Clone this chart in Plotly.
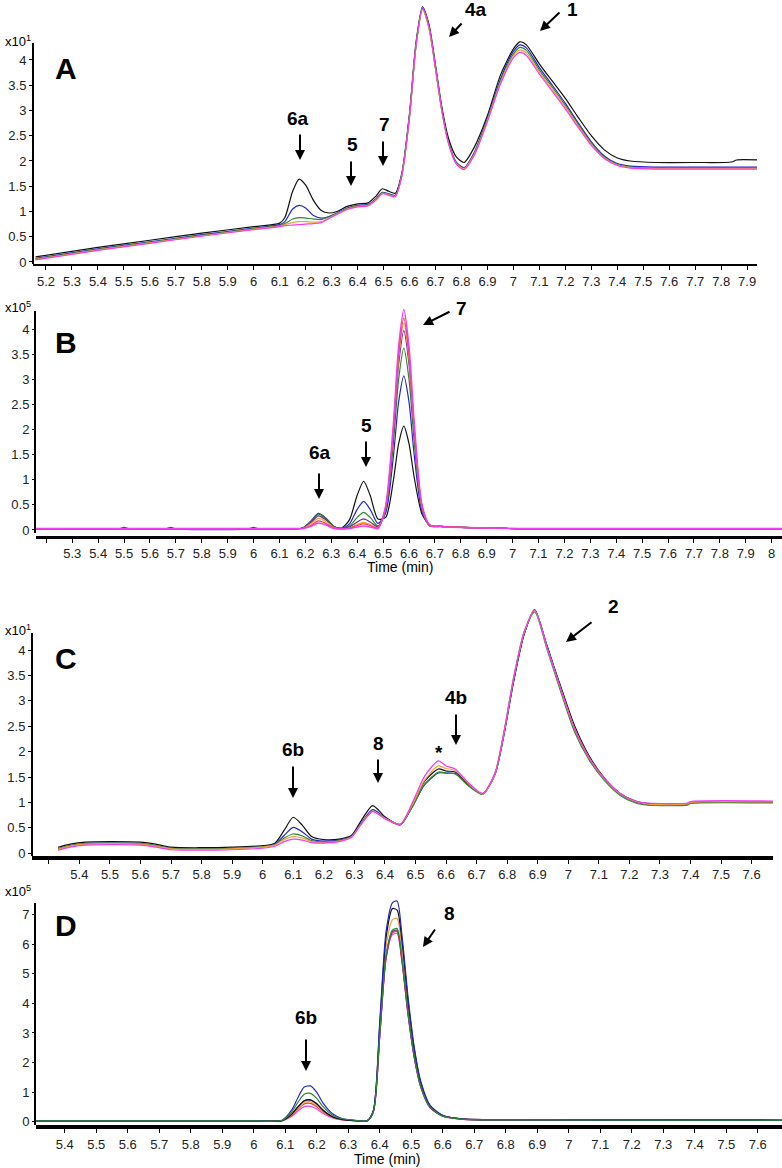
import plotly.graph_objects as go

W, H = 782, 1168

# ---------------- Panel A (x10^1) ----------------
tA = [5.16, 5.40, 5.60, 5.80, 6.00, 6.10, 6.12, 6.15, 6.175, 6.20, 6.23, 6.26, 6.29, 6.32, 6.36, 6.40,
      6.44, 6.47, 6.495, 6.52, 6.545, 6.57, 6.60, 6.625, 6.65, 6.675, 6.70, 6.725, 6.75, 6.78, 6.81,
      6.85, 6.90, 6.95, 7.00, 7.025, 7.05, 7.10, 7.15, 7.20, 7.25, 7.30, 7.35, 7.40, 7.45, 7.55, 7.70,
      7.84, 7.86, 7.94]
A_black = [0.10, 0.29, 0.43, 0.57, 0.70, 0.77, 0.88, 1.40, 1.64, 1.52, 1.22, 1.02, 0.97, 1.00, 1.10, 1.15,
           1.17, 1.30, 1.45, 1.40, 1.36, 1.75, 2.95, 4.35, 5.05, 4.70, 3.90, 3.05, 2.45, 2.08, 1.97,
           2.28, 2.90, 3.70, 4.22, 4.36, 4.30, 3.92, 3.58, 3.24, 2.86, 2.50, 2.22, 2.06, 2.00, 1.97, 1.97,
           1.98, 2.02, 2.02]
A_blue = [0.07, 0.26, 0.40, 0.54, 0.67, 0.74, 0.80, 1.05, 1.12, 1.07, 0.92, 0.87, 0.90, 0.97, 1.07, 1.12,
          1.14, 1.25, 1.38, 1.35, 1.32, 1.72, 2.90, 4.30, 5.02, 4.65, 3.85, 3.00, 2.38, 1.98, 1.87,
          2.18, 2.85, 3.62, 4.17, 4.30, 4.24, 3.85, 3.50, 3.14, 2.75, 2.38, 2.10, 1.95, 1.90, 1.88, 1.88,
          1.88, 1.88, 1.88]
A_green = [0.06, 0.25, 0.39, 0.53, 0.66, 0.72, 0.76, 0.85, 0.88, 0.87, 0.85, 0.84, 0.89, 0.96, 1.06, 1.11,
           1.13, 1.24, 1.37, 1.34, 1.31, 1.71, 2.88, 4.28, 5.00, 4.63, 3.83, 2.98, 2.36, 1.96, 1.86,
           2.16, 2.83, 3.58, 4.12, 4.25, 4.19, 3.80, 3.46, 3.10, 2.72, 2.35, 2.08, 1.93, 1.88, 1.86, 1.86,
           1.86, 1.86, 1.86]
A_orange = [0.05, 0.24, 0.38, 0.52, 0.65, 0.71, 0.74, 0.78, 0.80, 0.80, 0.79, 0.80, 0.87, 0.95, 1.05, 1.10,
            1.12, 1.23, 1.36, 1.33, 1.30, 1.70, 2.87, 4.27, 5.00, 4.62, 3.82, 2.97, 2.35, 1.95, 1.85,
            2.14, 2.80, 3.55, 4.08, 4.20, 4.14, 3.76, 3.42, 3.07, 2.69, 2.33, 2.06, 1.92, 1.87, 1.85, 1.85,
            1.85, 1.85, 1.85]
A_magenta = [0.04, 0.23, 0.37, 0.51, 0.64, 0.70, 0.72, 0.73, 0.74, 0.75, 0.76, 0.78, 0.86, 0.94, 1.04, 1.09,
             1.11, 1.22, 1.35, 1.32, 1.29, 1.70, 2.88, 4.30, 5.04, 4.66, 3.85, 2.98, 2.35, 1.94, 1.83,
             2.12, 2.78, 3.52, 4.04, 4.15, 4.09, 3.72, 3.38, 3.03, 2.66, 2.31, 2.05, 1.91, 1.86, 1.84, 1.84,
             1.84, 1.84, 1.84]

# ---------------- Panel B (x10^5) ----------------
tB = [5.16, 5.48, 5.50, 5.52, 5.66, 5.68, 5.70, 5.98, 6.00, 6.02, 6.16, 6.19, 6.22, 6.25, 6.28, 6.31,
      6.34, 6.37, 6.40, 6.425, 6.45, 6.48, 6.51, 6.54, 6.56, 6.58, 6.60, 6.62, 6.65, 6.68, 6.72, 6.80,
      6.95, 7.05, 8.04]
B_black = [.02, .02, .02, .02, .02, .02, .02, .02, .02, .02, .02, .04, .16, .32, .23, .07,
           .04, .20, .69, .97, .69, .22, .25, 1.00, 1.72, 2.07, 1.72, 1.05, .32, .10, .07, .05,
           .035, .02, .02]
B_blue = [.02, .02, .05, .02, .02, .05, .02, .02, .05, .02, .02, .04, .17, .33, .23, .07,
          .03, .12, .41, .57, .41, .13, .34, 1.48, 2.55, 3.07, 2.55, 1.50, .36, .08, .07, .05,
          .035, .02, .02]
B_green = [.02, .02, .02, .02, .02, .02, .02, .02, .02, .02, .02, .04, .16, .32, .23, .07,
           .03, .08, .25, .35, .25, .08, .40, 1.75, 3.00, 3.62, 3.00, 1.77, .42, .08, .07, .05,
           .035, .02, .02]
B_purple = [.02, .02, .02, .02, .02, .02, .02, .02, .02, .02, .02, .04, .14, .28, .20, .06,
            .03, .06, .16, .22, .16, .06, .43, 1.92, 3.30, 3.97, 3.30, 1.94, .46, .09, .07, .05,
            .035, .02, .02]
B_orange = [.02, .02, .02, .02, .02, .02, .02, .02, .02, .02, .02, .03, .12, .23, .17, .05,
            .03, .04, .11, .15, .11, .04, .45, 2.00, 3.42, 4.12, 3.42, 2.00, .47, .09, .07, .05,
            .035, .02, .02]
B_red = [.02, .02, .02, .02, .02, .02, .02, .02, .02, .02, .02, .03, .09, .18, .13, .04,
         .02, .04, .09, .12, .09, .04, .46, 2.04, 3.50, 4.22, 3.50, 2.05, .48, .09, .07, .05,
         .035, .02, .02]
B_magenta = [.03, .03, .03, .03, .03, .03, .03, .03, .03, .03, .03, .03, .07, .14, .10, .03,
             .02, .03, .06, .08, .06, .03, .48, 2.12, 3.64, 4.39, 3.64, 2.14, .50, .10, .07, .05,
             .035, .03, .03]

# ---------------- Panel C (x10^1) ----------------
tC = [5.33, 5.37, 5.42, 5.50, 5.60, 5.65, 5.70, 5.80, 5.90, 6.00, 6.04, 6.07, 6.10, 6.13, 6.16, 6.20,
      6.25, 6.29, 6.32, 6.36, 6.40, 6.45, 6.49, 6.53, 6.575, 6.60, 6.63, 6.675, 6.72, 6.76, 6.79,
      6.82, 6.855, 6.89, 6.93, 6.97, 7.02, 7.07, 7.12, 7.17, 7.22, 7.26, 7.39, 7.40, 7.67]
C_black = [0.12, 0.18, 0.22, 0.23, 0.22, 0.18, 0.12, 0.11, 0.12, 0.15, 0.20, 0.45, 0.71, 0.55, 0.33, 0.27,
           0.28, 0.35, 0.62, 0.94, 0.72, 0.57, 0.95, 1.42, 1.66, 1.62, 1.60, 1.35, 1.17, 1.55, 2.35,
           3.35, 4.30, 4.80, 4.08, 3.38, 2.52, 1.90, 1.47, 1.18, 1.03, 0.98, 0.97, 1.00, 1.01]
C_blue = [0.09, 0.15, 0.19, 0.20, 0.19, 0.15, 0.10, 0.09, 0.10, 0.13, 0.18, 0.35, 0.51, 0.42, 0.28, 0.24,
          0.26, 0.33, 0.58, 0.86, 0.70, 0.56, 0.92, 1.35, 1.58, 1.58, 1.57, 1.33, 1.17, 1.55, 2.35,
          3.35, 4.30, 4.78, 4.10, 3.35, 2.45, 1.85, 1.44, 1.16, 1.01, 0.96, 0.96, 0.99, 1.00]
C_green = [0.09, 0.15, 0.19, 0.20, 0.19, 0.15, 0.10, 0.09, 0.10, 0.13, 0.17, 0.30, 0.38, 0.34, 0.25, 0.22,
           0.25, 0.32, 0.56, 0.83, 0.69, 0.56, 0.92, 1.36, 1.60, 1.58, 1.56, 1.32, 1.16, 1.57, 2.40,
           3.42, 4.35, 4.75, 4.02, 3.28, 2.40, 1.82, 1.42, 1.14, 0.99, 0.95, 0.95, 0.98, 0.99]
C_orange = [0.08, 0.14, 0.18, 0.19, 0.18, 0.14, 0.09, 0.08, 0.09, 0.12, 0.16, 0.27, 0.33, 0.30, 0.23, 0.21,
            0.24, 0.32, 0.56, 0.83, 0.69, 0.57, 0.96, 1.44, 1.72, 1.67, 1.63, 1.36, 1.17, 1.56, 2.38,
            3.40, 4.33, 4.78, 4.06, 3.33, 2.46, 1.86, 1.45, 1.17, 1.02, 0.97, 0.97, 1.00, 1.01]
C_magenta = [0.06, 0.12, 0.16, 0.17, 0.16, 0.12, 0.07, 0.06, 0.07, 0.10, 0.14, 0.23, 0.28, 0.26, 0.21, 0.20,
             0.23, 0.31, 0.55, 0.82, 0.68, 0.57, 1.00, 1.52, 1.82, 1.72, 1.66, 1.38, 1.18, 1.58, 2.40,
             3.42, 4.35, 4.79, 4.06, 3.33, 2.47, 1.87, 1.46, 1.18, 1.03, 0.99, 0.99, 1.02, 1.03]

# ---------------- Panel D (x10^5) ----------------
tD = [5.31, 6.00, 6.09, 6.12, 6.14, 6.16, 6.18, 6.20, 6.22, 6.25, 6.28, 6.32, 6.36, 6.38, 6.40, 6.42,
      6.44, 6.455, 6.47, 6.49, 6.51, 6.53, 6.56, 6.60, 6.66, 6.80, 7.68]
D_blue = [0.03, 0.03, 0.05, 0.39, 0.81, 1.17, 1.21, 0.99, 0.63, 0.27, 0.11, 0.05, 0.03, 0.40, 3.37, 6.42,
          7.39, 7.46, 6.35, 4.19, 2.48, 1.37, 0.55, 0.22, 0.10, 0.07, 0.05]
D_black = [0.03, 0.03, 0.04, 0.25, 0.50, 0.71, 0.74, 0.61, 0.39, 0.17, 0.08, 0.04, 0.03, 0.39, 3.27, 6.22,
           7.20, 7.15, 6.15, 4.06, 2.41, 1.33, 0.53, 0.21, 0.10, 0.07, 0.05]
D_green = [0.03, 0.03, 0.05, 0.32, 0.65, 0.93, 0.96, 0.79, 0.51, 0.22, 0.10, 0.05, 0.03, 0.36, 2.96, 5.62,
           6.47, 6.53, 5.56, 3.67, 2.18, 1.20, 0.49, 0.19, 0.09, 0.06, 0.05]
D_purple = [0.03, 0.03, 0.04, 0.25, 0.50, 0.70, 0.73, 0.60, 0.39, 0.17, 0.08, 0.04, 0.03, 0.35, 2.93, 5.57,
            6.42, 6.47, 5.51, 3.64, 2.16, 1.19, 0.48, 0.19, 0.09, 0.06, 0.05]
D_orange = [0.03, 0.03, 0.04, 0.23, 0.45, 0.65, 0.67, 0.55, 0.35, 0.16, 0.07, 0.04, 0.03, 0.37, 3.11, 5.92,
            6.82, 6.87, 5.85, 3.86, 2.29, 1.26, 0.51, 0.20, 0.10, 0.07, 0.05]
D_red = [0.03, 0.03, 0.04, 0.21, 0.42, 0.60, 0.62, 0.51, 0.33, 0.15, 0.07, 0.04, 0.03, 0.35, 2.91, 5.53,
         6.38, 6.42, 5.47, 3.61, 2.14, 1.18, 0.48, 0.19, 0.09, 0.06, 0.05]
D_magenta = [0.03, 0.03, 0.04, 0.18, 0.36, 0.51, 0.52, 0.43, 0.28, 0.13, 0.06, 0.04, 0.03, 0.34, 2.89, 5.49,
             6.32, 6.36, 5.43, 3.59, 2.13, 1.17, 0.47, 0.19, 0.09, 0.06, 0.05]

# ---------------- ticks ----------------
TICKS_A = [5.2, 5.3, 5.4, 5.5, 5.6, 5.7, 5.8, 5.9, 6.0, 6.1, 6.2, 6.3, 6.4, 6.5, 6.6, 6.7, 6.8, 6.9,
           7.0, 7.1, 7.2, 7.3, 7.4, 7.5, 7.6, 7.7, 7.8, 7.9]
TICKS_B = [5.2, 5.3, 5.4, 5.5, 5.6, 5.7, 5.8, 5.9, 6.0, 6.1, 6.2, 6.3, 6.4, 6.5, 6.6, 6.7, 6.8, 6.9,
           7.0, 7.1, 7.2, 7.3, 7.4, 7.5, 7.6, 7.7, 7.8, 7.9, 8.0]
TICKS_CD = [5.3, 5.4, 5.5, 5.6, 5.7, 5.8, 5.9, 6.0, 6.1, 6.2, 6.3, 6.4, 6.5, 6.6, 6.7, 6.8, 6.9,
            7.0, 7.1, 7.2, 7.3, 7.4, 7.5, 7.6]
YTICKS_ABC = [0, 0.5, 1, 1.5, 2, 2.5, 3, 3.5, 4]
YTICKS_D = [0, 1, 2, 3, 4, 5, 6, 7]

COL = {
    "black": "#111111", "blue": "#2525c8", "green": "#2f8a2f", "purple": "#6a2a88",
    "orange": "#f2a23c", "red": "#e8413c", "magenta": "#f23cf0",
}

fig = go.Figure()


def add(xs, ys, color, n, width=1.2):
    fig.add_trace(go.Scatter(
        x=xs, y=ys, mode="lines",
        line=dict(color=COL[color], width=width, shape="spline", smoothing=0.7),
        xaxis="x" if n == 1 else "x%d" % n, yaxis="y" if n == 1 else "y%d" % n,
        showlegend=False, hoverinfo="skip"))


for name, ys in [("black", A_black), ("blue", A_blue), ("green", A_green),
                 ("orange", A_orange), ("magenta", A_magenta)]:
    add(tA, ys, name, 1)
for name, ys in [("black", B_black), ("blue", B_blue), ("green", B_green), ("purple", B_purple),
                 ("orange", B_orange), ("red", B_red), ("magenta", B_magenta)]:
    add(tB, ys, name, 2, 1.6 if name == "magenta" else 1.2)
for name, ys in [("black", C_black), ("blue", C_blue), ("green", C_green),
                 ("orange", C_orange), ("magenta", C_magenta)]:
    add(tC, ys, name, 3)
for name, ys in [("magenta", D_magenta), ("red", D_red), ("orange", D_orange), ("purple", D_purple),
                 ("black", D_black), ("blue", D_blue), ("green", D_green)]:
    add(tD, ys, name, 4)


def px(x):
    return x / W


def py(y):
    return 1 - y / H


def fmt(v):
    return "%g" % v


TICKFONT = dict(family="Liberation Sans Narrow, Liberation Sans, Arial", size=13, color="#222")

# panel geometry (pixels): x-domain, y-domain, x range, y range
panels = [
    dict(xd=(33, 757), yd=(0, 264), xr=(5.15, 7.938), yr=(-0.04, 5.188), ticks=TICKS_A,
         blank_first=False, yt=YTICKS_ABC, lw=2, font=dict(family="Liberation Sans, Arial", size=13, color="#222")),
    dict(xd=(36, 782), yd=(300, 536), xr=(5.160, 8.040), yr=(-0.12, 4.58), ticks=TICKS_B,
         blank_first=True, yt=YTICKS_ABC, lw=2.5, font=TICKFONT),
    dict(xd=(32, 773), yd=(598, 856), xr=(5.245, 7.670), yr=(-0.053, 5.026), ticks=TICKS_CD,
         blank_first=True, yt=YTICKS_ABC, lw=3.5, font=TICKFONT),
    dict(xd=(36, 782), yd=(895, 1125), xr=(5.3086, 7.677), yr=(-0.11, 7.66), ticks=TICKS_CD,
         blank_first=True, yt=YTICKS_D, lw=4, font=TICKFONT),
]

layout = dict(width=W, height=H, margin=dict(l=0, r=0, t=0, b=0), autosize=False,
              plot_bgcolor="white", paper_bgcolor="white", showlegend=False)
for i, p in enumerate(panels, start=1):
    xk = "xaxis" if i == 1 else "xaxis%d" % i
    yk = "yaxis" if i == 1 else "yaxis%d" % i
    ttext = [fmt(v) for v in p["ticks"]]
    if p["blank_first"]:
        ttext[0] = ""
    layout[xk] = dict(domain=[px(p["xd"][0]), px(p["xd"][1])], range=list(p["xr"]),
                      anchor="y" if i == 1 else "y%d" % i,
                      showgrid=False, zeroline=False, showline=True, linecolor="black",
                      linewidth=p["lw"], ticks="outside", ticklen=4, tickcolor="black",
                      tickvals=p["ticks"], ticktext=ttext, tickfont=p["font"], automargin=False,
                      ticklabelstandoff=0)
    layout[yk] = dict(domain=[py(p["yd"][1]), py(p["yd"][0])], range=list(p["yr"]),
                      anchor="x" if i == 1 else "x%d" % i,
                      showgrid=False, zeroline=False, showline=False, ticks="outside", ticklen=3,
                      tickcolor="black", tickvals=p["yt"], ticktext=[fmt(v) for v in p["yt"]],
                      tickfont=p["font"], automargin=False)
fig.update_layout(**layout)

# y-axis lines (stop at top of the scale, as in the reference)
shapes = []
for (x0, y0, y1) in [(33, 43, 264), (35, 311, 533), (32, 633, 856), (35, 903, 1125)]:
    shapes.append(dict(type="line", xref="paper", yref="paper", x0=px(x0), x1=px(x0),
                       y0=py(y0), y1=py(y1), line=dict(color="black", width=2)))
fig.update_layout(shapes=shapes)

ann = []
LBL = dict(family="Liberation Sans Narrow, Liberation Sans, Arial", size=19, color="black")


def text(x, y, s, size=None, fam=None):
    f = dict(LBL)
    if size:
        f["size"] = size
    if fam:
        f["family"] = fam
    ann.append(dict(xref="paper", yref="paper", x=px(x), y=py(y), text=s, showarrow=False,
                    xanchor="center", yanchor="middle", font=f))


def arrow(x0, y0, x1, y1):
    ann.append(dict(xref="paper", yref="paper", x=px(x1), y=py(y1), ax=x0 - x1, ay=y0 - y1,
                    text="", showarrow=True, arrowhead=2, arrowsize=1.0, arrowwidth=2,
                    arrowcolor="black"))


# Panel letters
for (x, y, s) in [(66, 68, "A"), (66, 342, "B"), (66, 658, "C"), (66, 925, "D")]:
    text(x, y, "<b>%s</b>" % s, size=30, fam="Liberation Sans, Arial")

# exponent labels
for (x, y, e) in [(18, 41, "1"), (18, 307, "5"), (18, 630, "1"), (18, 891, "5")]:
    text(x, y, "x10<sup>%s</sup>" % e, size=13, fam="Liberation Sans Narrow, Liberation Sans, Arial")

# Axis titles
text(400, 567, "Time (min)", size=14, fam="Liberation Sans Narrow, Liberation Sans, Arial")
text(387, 1159, "Time (min)", size=14, fam="Liberation Sans Narrow, Liberation Sans, Arial")

# compound labels
for (x, y, s) in [(298, 118, "6a"), (352, 144, "5"), (384, 125, "7"), (476, 9, "4a"), (572, 9, "1"),
                  (462, 308, "7"), (320, 452, "6a"), (366, 425, "5"),
                  (613, 606, "2"), (293, 749, "6b"), (378, 743, "8"), (439, 752, "*"), (456, 697, "4b"),
                  (449, 913, "8"), (306, 1017, "6b")]:
    text(x, y, "<b>%s</b>" % s)

for (x0, y0, x1, y1) in [(300, 133, 300, 160), (351, 160, 351, 186), (383, 140, 383, 166),
                         (463, 22, 449, 37), (561, 11, 540, 31),
                         (451, 311, 423, 325), (319, 472, 319, 499), (366, 440, 366, 467),
                         (593, 621, 566, 642), (293, 765, 293, 798), (378, 758, 378, 783),
                         (456, 713, 456, 745),
                         (436, 928, 423, 947), (306, 1038, 306, 1071)]:
    arrow(x0, y0, x1, y1)

fig.update_layout(annotations=ann)
fig.write_html("out.html", config={"displayModeBar": False},
               post_script="document.body.style.margin='0px';document.body.style.overflow='hidden';")
